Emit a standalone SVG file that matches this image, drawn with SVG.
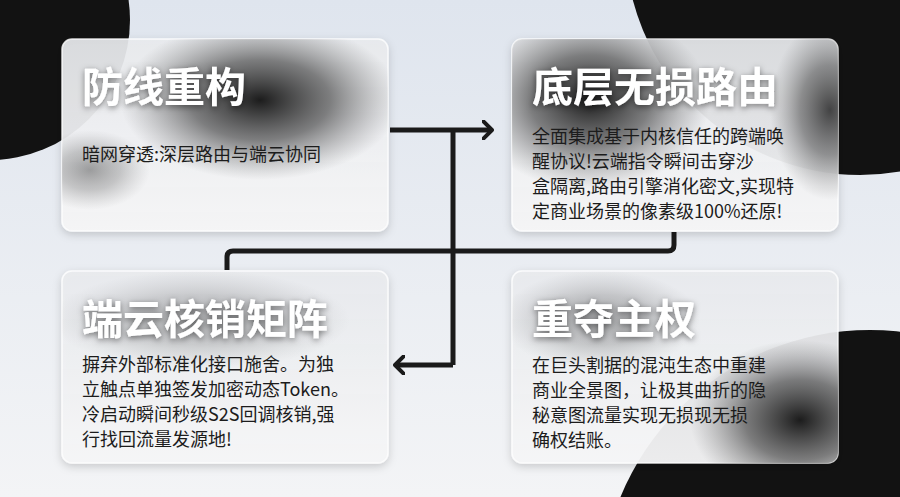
<svg xmlns="http://www.w3.org/2000/svg" width="900" height="497" viewBox="0 0 900 497">
<defs>
<linearGradient id="bg" x1="0" y1="0" x2="0" y2="1"><stop offset="0" stop-color="#dfe5ee"/><stop offset="1" stop-color="#f3f4f6"/></linearGradient>
<linearGradient id="card" x1="0" y1="0" x2="0" y2="1"><stop offset="0" stop-color="#e9ebee" stop-opacity="0.92"/><stop offset="1" stop-color="#f6f6f7" stop-opacity="0.95"/></linearGradient>
<radialGradient id="dark"><stop offset="0" stop-color="#111" stop-opacity="0.95"/><stop offset="0.5" stop-color="#333" stop-opacity="0.6"/><stop offset="1" stop-color="#666" stop-opacity="0"/></radialGradient>
<filter id="sh" x="-10%" y="-10%" width="120%" height="130%"><feDropShadow dx="0" dy="3" stdDeviation="4" flood-color="#000" flood-opacity="0.18"/></filter>
<filter id="ts"><feDropShadow dx="0" dy="2" stdDeviation="3" flood-color="#000" flood-opacity="0.5"/></filter>
<marker id="ah" viewBox="0 0 12 20" refX="10" refY="10" markerWidth="12" markerHeight="20" markerUnits="userSpaceOnUse" orient="auto"><path d="M1,1 L10,10 L1,19" fill="none" stroke="#1a1a1a" stroke-width="4" stroke-linecap="round" stroke-linejoin="round"/></marker>
<clipPath id="c1"><rect x="62" y="39" width="326" height="192" rx="10"/></clipPath>
<clipPath id="c2"><rect x="512" y="39" width="326" height="192" rx="10"/></clipPath>
<clipPath id="c3"><rect x="62" y="271" width="326" height="192" rx="10"/></clipPath>
<clipPath id="c4"><rect x="512" y="271" width="326" height="192" rx="10"/></clipPath>
</defs>
<style>
.t{font-family:"Noto Sans CJK SC","Noto Sans",sans-serif;font-weight:700;font-size:41px;fill:#fff;filter:url(#ts)}
.b{font-family:"Noto Sans CJK SC","Noto Sans",sans-serif;font-size:18px;fill:#1c1c1c}
.cr{fill:url(#card);stroke:#fff;stroke-opacity:0.8;stroke-width:1.5}
.ln{fill:none;stroke:#1a1a1a;stroke-width:5;stroke-linejoin:round}
</style>
<rect width="900" height="497" fill="url(#bg)"/>
<circle cx="-10" cy="20" r="140" fill="#121212"/>
<circle cx="860" cy="-60" r="235" fill="#121212"/>
<circle cx="870" cy="600" r="270" fill="#121212"/>
<g id="connectors">
<path class="ln" d="M390,130 H492" marker-end="url(#ah)"/>
<path class="ln" d="M453,130 V365"/>
<path class="ln" d="M453,365 H395" marker-end="url(#ah)"/>
<path class="ln" d="M227,270 V257 Q227,251 233,251 H668 Q674,251 674,245 V232"/>
</g>
<g id="n1">
<rect class="cr" x="62" y="39" width="326" height="192" rx="10" filter="url(#sh)"/>
<g clip-path="url(#c1)"><ellipse cx="260" cy="100" rx="140" ry="80" fill="url(#dark)"/><ellipse cx="90" cy="170" rx="60" ry="40" fill="url(#dark)" opacity="0.4"/></g>
<text class="t" x="82" y="102">防线重构</text>
<text class="b" x="82" y="161">暗网穿透:深层路由与端云协同</text>
</g>
<g id="n2">
<rect class="cr" x="512" y="39" width="326" height="192" rx="10" filter="url(#sh)"/>
<g clip-path="url(#c2)"><ellipse cx="590" cy="100" rx="120" ry="90" fill="url(#dark)"/><ellipse cx="830" cy="110" rx="60" ry="90" fill="url(#dark)" opacity="0.8"/></g>
<text class="t" x="532" y="102">底层无损路由</text>
<text class="b" x="532" y="143">全面集成基于内核信任的跨端唤</text>
<text class="b" x="532" y="168">醒协议!云端指令瞬间击穿沙</text>
<text class="b" x="532" y="193">盒隔离,路由引擎消化密文,实现特</text>
<text class="b" x="532" y="218">定商业场景的像素级100%还原!</text>
</g>
<g id="n3">
<rect class="cr" x="62" y="271" width="326" height="192" rx="10" filter="url(#sh)"/>
<g clip-path="url(#c3)"><ellipse cx="200" cy="320" rx="150" ry="50" fill="url(#dark)" opacity="0.3"/></g>
<text class="t" x="82" y="334">端云核销矩阵</text>
<text class="b" x="82" y="371">摒弃外部标准化接口施舍。为独</text>
<text class="b" x="82" y="396">立触点单独签发加密动态Token。</text>
<text class="b" x="82" y="421">冷启动瞬间秒级S2S回调核销,强</text>
<text class="b" x="82" y="446">行找回流量发源地!</text>
</g>
<g id="n4">
<rect class="cr" x="512" y="271" width="326" height="192" rx="10" filter="url(#sh)"/>
<g clip-path="url(#c4)"><ellipse cx="800" cy="420" rx="110" ry="80" fill="url(#dark)"/><ellipse cx="600" cy="320" rx="100" ry="50" fill="url(#dark)" opacity="0.35"/></g>
<text class="t" x="532" y="334">重夺主权</text>
<text class="b" x="532" y="372">在巨头割据的混沌生态中重建</text>
<text class="b" x="532" y="397">商业全景图，让极其曲折的隐</text>
<text class="b" x="532" y="422">秘意图流量实现无损现无损</text>
<text class="b" x="532" y="447">确权结账。</text>
</g>
</svg>
